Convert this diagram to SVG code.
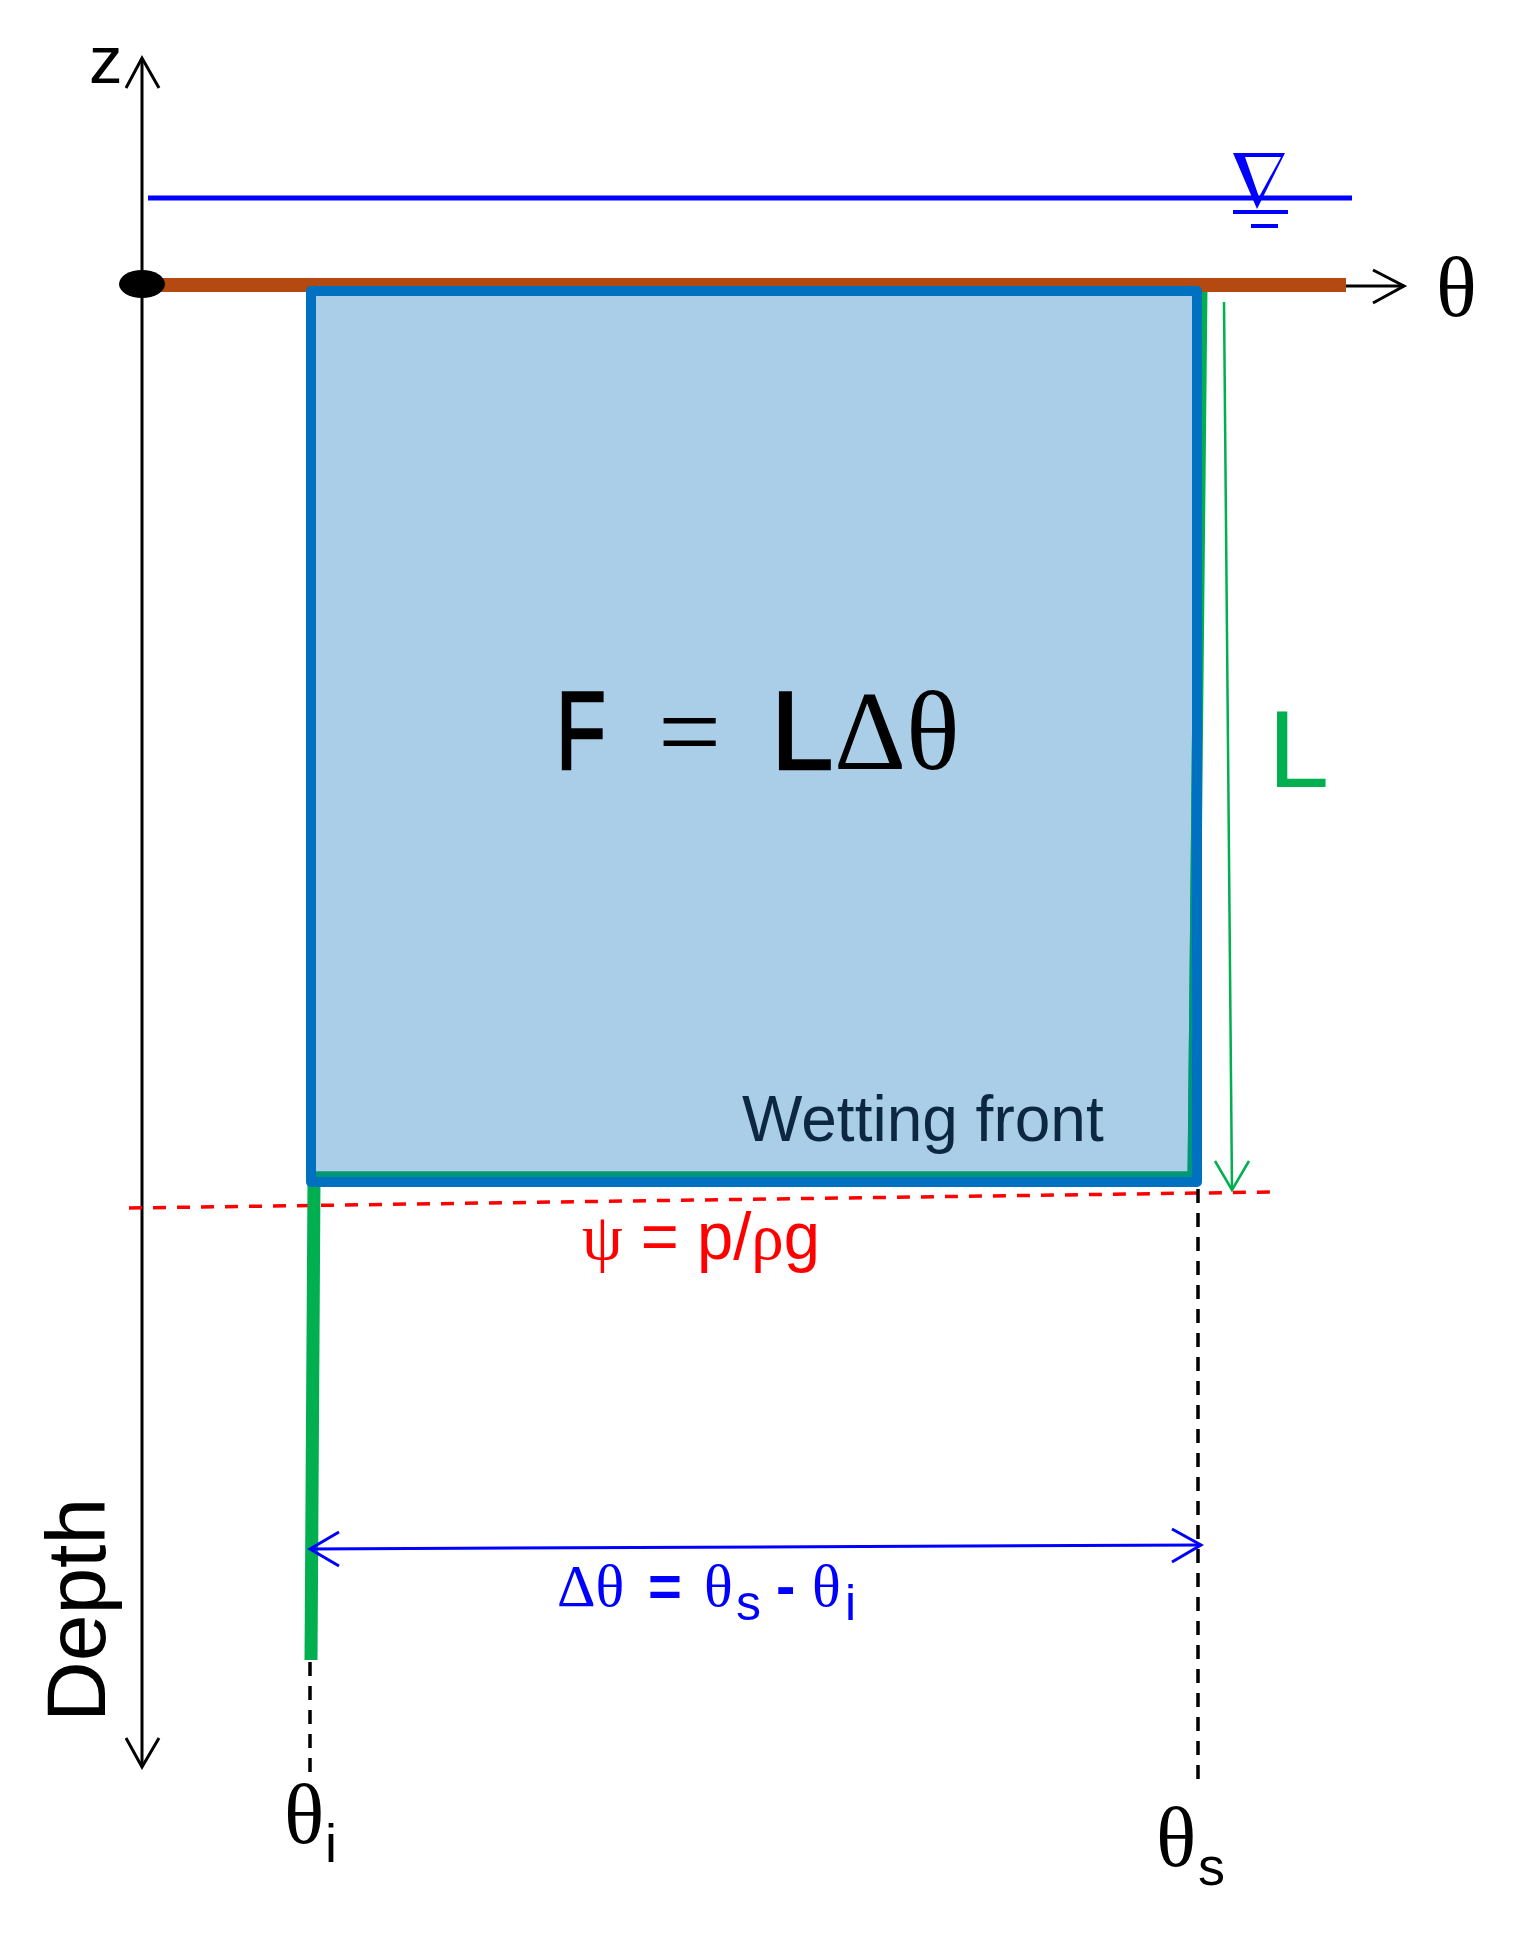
<svg xmlns="http://www.w3.org/2000/svg" width="1530" height="1934" viewBox="0 0 1530 1934">
<style>
.sans{font-family:"Liberation Sans",Arial,sans-serif}
.serif{font-family:"Liberation Serif","Times New Roman",serif}
.ax{stroke:#000;stroke-width:3;fill:none}
.dash{stroke:#000;stroke-width:3.5;stroke-dasharray:14 10;fill:none}
.heavy{stroke:#000;stroke-width:2.5}
</style>
<defs>
<clipPath id="inner"><rect x="316" y="296" width="876" height="881"/></clipPath>
</defs>
<rect width="1530" height="1934" fill="#fff"/>

<g id="connectors">
  <line class="ax" x1="142" y1="58" x2="142" y2="1767"/>
  <polyline class="ax" points="126,88 142,58 159,88"/>
  <polyline class="ax" points="126,1738 142,1767 159,1738"/>
  <line x1="148" y1="198" x2="1352" y2="198" stroke="#0000FF" stroke-width="5"/>
  <line class="ax" x1="1340" y1="286" x2="1404" y2="286"/>
  <polyline class="ax" points="1373,270 1404,286 1373,303"/>
  <line x1="129" y1="1208" x2="1272" y2="1192" stroke="#FF0000" stroke-width="3.5" stroke-dasharray="13 11"/>
  <line class="dash" x1="310" y1="1662" x2="310" y2="1772"/>
  <line class="dash" x1="1198" y1="1189" x2="1198" y2="1779"/>
</g>

<g id="soil-box">
  <rect x="311" y="291" width="886" height="891" fill="#ABCEE8"/>
</g>

<g id="profile">
  <polyline points="1202,288 1193,1177 314,1177 311,1660" fill="none" stroke="#00B050" stroke-width="11" stroke-linejoin="miter"/>
  <polyline points="1202,288 1193,1177 314,1177 311,1660" fill="none" stroke="#00967A" stroke-width="11" clip-path="url(#inner)"/>
  <line x1="314" y1="1180" x2="311" y2="1660" stroke="#00B050" stroke-width="13"/>
</g>

<g id="surface">
  <line x1="150" y1="285" x2="1346" y2="285" stroke="#B44A12" stroke-width="14"/>
  <ellipse cx="142" cy="284" rx="23" ry="14" fill="#000"/>
</g>

<g id="box-border">
  <rect x="311" y="291" width="886" height="891" fill="none" stroke="#0070C0" stroke-width="10" stroke-linejoin="round"/>
</g>

<g id="water-symbol" fill="#0000FF">
  <path d="M1233,153 L1285,153 L1257,209 Z M1245,157 L1281,157 L1259,197 Z" fill-rule="evenodd"/>
  <rect x="1233" y="210" width="55" height="4"/>
  <rect x="1251" y="224" width="27" height="4"/>
</g>

<g id="L-arrow" fill="none" stroke="#00B050" stroke-width="2.5">
  <line x1="1224" y1="302" x2="1232" y2="1190"/>
  <polyline points="1215,1161 1232,1190 1249,1161"/>
</g>

<g id="delta-arrow" fill="none" stroke="#0000FF" stroke-width="3">
  <line x1="310" y1="1549" x2="1201" y2="1545"/>
  <polyline points="339,1532 310,1549 339,1566"/>
  <polyline points="1172,1529 1201,1545 1172,1562"/>
</g>

<g id="labels">
  <text class="sans" x="89" y="83" font-size="67">z</text>
  <text class="serif" x="1436" y="316" font-size="85">θ</text>

  <g id="formula">
    <text class="sans heavy" x="556" y="769" font-size="112" textLength="50" lengthAdjust="spacingAndGlyphs">F</text>
    <text class="serif" x="658" y="769" font-size="112">=</text>
    <text class="sans heavy" x="771" y="769" font-size="112">L</text>
    <text class="serif" x="834" y="769" font-size="112">Δθ</text>
  </g>

  <text class="sans" x="1268" y="787" font-size="110" fill="#00B050">L</text>
  <text class="sans" x="742" y="1141" font-size="64" fill="#0C2742">Wetting front</text>
  <text class="sans" x="582" y="1259" font-size="66" fill="#FF0000" textLength="238" lengthAdjust="spacingAndGlyphs"><tspan class="serif">ψ</tspan> = p/<tspan class="serif">ρ</tspan>g</text>

  <g id="delta-label" fill="#0000FF">
    <text class="serif" x="557" y="1606" font-size="60">Δθ</text>
    <text class="sans" x="648" y="1606" font-size="58" font-weight="bold">=</text>
    <text class="serif" x="704" y="1606" font-size="60">θ</text>
    <text class="sans" x="736" y="1620" font-size="50">s</text>
    <text class="sans" x="776" y="1606" font-size="58" font-weight="bold">-</text>
    <text class="serif" x="812" y="1606" font-size="60">θ</text>
    <text class="sans" x="845" y="1620" font-size="50">i</text>
  </g>

  <text class="sans" font-size="84" transform="translate(105,1722) rotate(-90)">Depth</text>

  <text class="serif" x="284" y="1843" font-size="84">θ</text>
  <text class="sans" x="325" y="1862" font-size="54">i</text>
  <text class="serif" x="1156" y="1866" font-size="84">θ</text>
  <text class="sans" x="1198" y="1885" font-size="54">s</text>
</g>
</svg>
